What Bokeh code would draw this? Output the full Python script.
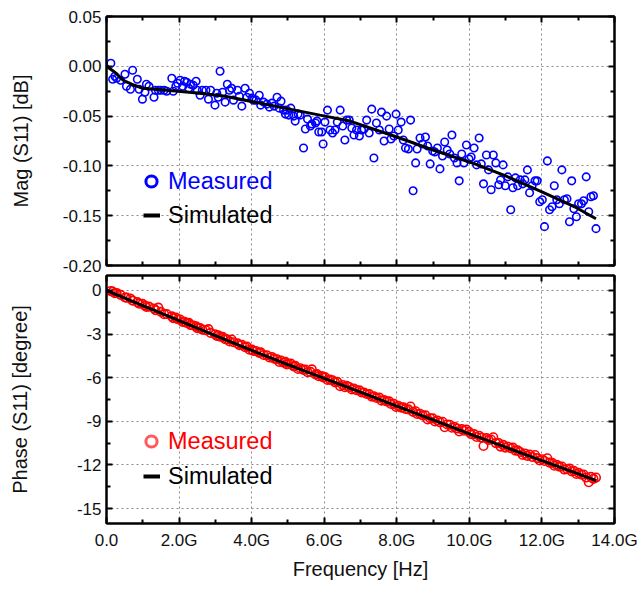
from bokeh.plotting import figure
from bokeh.layouts import column
from bokeh.models import (Range1d, FixedTicker, CustomJSTickFormatter, LinearAxis,
                          Legend, LegendItem, ColumnDataSource, Grid)
from bokeh.embed import file_html
from bokeh.resources import INLINE

FONT = "Liberation Sans"
NAN = float("nan")

# ---------------- data (frequency in GHz) ----------------
freq_ghz = [
    0.12, 0.17, 0.23, 0.28, 0.39, 0.51, 0.55, 0.66, 0.72, 0.85,
    0.90, 0.99, 1.06, 1.10, 1.17, 1.31, 1.35, 1.43, 1.50, 1.59,
    1.66, 1.80, 1.84, 1.91, 1.96, 2.03, 2.10, 2.15, 2.21, 2.27,
    2.32, 2.39, 2.47, 2.50, 2.58, 2.64, 2.74, 2.81, 2.87, 2.99,
    3.04, 3.08, 3.13, 3.20, 3.27, 3.33, 3.39, 3.45, 3.50, 3.61,
    3.66, 3.73, 3.82, 3.87, 3.94, 4.01, 4.05, 4.12, 4.21, 4.25,
    4.33, 4.42, 4.49, 4.56, 4.62, 4.70, 4.76, 4.81, 4.88, 4.93,
    4.97, 5.02, 5.08, 5.16, 5.20, 5.28, 5.34, 5.43, 5.48, 5.54,
    5.62, 5.66, 5.76, 5.80, 5.85,
    5.93, 5.97, 6.02, 6.09, 6.16, 6.23, 6.30, 6.36, 6.44, 6.51,
    6.57, 6.62, 6.69, 6.76, 6.82, 6.89, 6.97, 7.03, 7.10, 7.17,
    7.24, 7.31, 7.37, 7.44, 7.52, 7.58, 7.65, 7.72, 7.79, 7.84,
    7.92, 7.98, 8.04, 8.12, 8.18, 8.24, 8.32, 8.38, 8.45, 8.52,
    8.56, 8.64, 8.71, 8.79, 8.85, 8.92, 8.99, 9.05, 9.12, 9.19,
    9.26, 9.32, 9.39, 9.46, 9.52, 9.59, 9.66, 9.72, 9.79, 9.85,
    9.92, 9.99, 10.05, 10.13, 10.20, 10.27, 10.33, 10.39, 10.47, 10.53,
    10.60, 10.66, 10.73, 10.81, 10.86, 10.93, 10.99, 11.06, 11.14, 11.20,
    11.27, 11.33, 11.40, 11.47, 11.53, 11.60, 11.66, 11.73, 11.81, 11.87,
    11.94, 12.01, 12.07, 12.15, 12.21, 12.28, 12.34, 12.41, 12.48, 12.55,
    12.62, 12.69, 12.76, 12.82, 12.88, 12.95, 13.01, 13.09, 13.15, 13.22,
    13.29, 13.35, 13.42, 13.49,
]

mag_measured = [
    0.003, -0.013, -0.010, -0.012, -0.014, -0.008, -0.020, -0.023, -0.004, -0.013,
    -0.023, -0.033, -0.026, -0.018, -0.020, -0.031, -0.024, -0.024, -0.024, -0.024,
    -0.025, -0.012, -0.025, -0.020, -0.017, -0.014, -0.020, -0.015, -0.016, -0.022,
    -0.018, -0.019, -0.015, -0.024, -0.029, -0.024, -0.024, -0.033, -0.024, -0.039,
    -0.027, -0.031, -0.005, -0.026, -0.036, -0.018, -0.024, -0.022, -0.034, -0.024,
    -0.030, -0.040, -0.022, -0.031, -0.027, -0.032, -0.034, -0.034, -0.029, -0.039,
    -0.036, -0.038, -0.041, -0.037, -0.040, -0.031, -0.042, -0.035, -0.044, -0.048,
    -0.044, -0.049, -0.042, -0.050, -0.055, -0.048, -0.049, -0.082, -0.063, -0.053,
    -0.060, -0.058, -0.057, -0.055, -0.066,
    -0.066, -0.078, -0.056, -0.044, -0.064, -0.067, -0.064, -0.056, -0.044, -0.060,
    -0.074, -0.054, -0.054, -0.062, -0.069, -0.064, -0.070, -0.064, -0.063, -0.054,
    -0.067, -0.043, -0.092, -0.057, -0.064, -0.046, -0.075, -0.050, -0.063, -0.073,
    -0.070, -0.048, -0.064, -0.056, -0.074, -0.082, -0.083, -0.054, -0.125, -0.097,
    -0.083, -0.072, -0.078, -0.071, -0.080, -0.098, -0.085, -0.086, -0.082, -0.103,
    -0.090, -0.076, -0.084, -0.088, -0.069, -0.092, -0.097, -0.115, -0.088, -0.097,
    -0.079, -0.093, -0.091, -0.082, -0.099, -0.072, -0.098, -0.118, -0.089, -0.104,
    -0.124, -0.089, -0.097, -0.119, -0.114, -0.099, -0.120, -0.111, -0.144, -0.122,
    -0.112, -0.120, -0.114, -0.118, -0.114, -0.104, -0.127, -0.120, -0.115, -0.115,
    -0.136, -0.134, -0.161, -0.095, -0.144, -0.141, -0.120, -0.134, -0.138, -0.104,
    -0.134, -0.133, -0.156, -0.115, -0.143, -0.151, -0.138, -0.138, -0.135, -0.111,
    -0.146, -0.131, -0.130, -0.163,
]

phase_measured = [
    -0.04, -0.08, -0.19, -0.17, -0.30, -0.48, -0.49, -0.56, -0.70, -0.80,
    -0.91, -0.92, -1.04, -1.14, -1.11, -1.24, -1.35, -1.18, -1.47, -1.63,
    -1.62, -1.78, -1.90, -1.86, -1.98, -2.00, -2.17, -2.15, -2.24, -2.23,
    -2.38, -2.41, -2.46, -2.59, -2.59, -2.69, -2.74, -2.66, -2.92, -3.01,
    -3.13, -3.09, -3.18, -3.19, -3.35, -3.37, -3.51, -3.37, -3.56, -3.64,
    -3.77, -3.74, -3.90, -3.86, -4.08, -4.07, -4.16, -4.16, -4.29, -4.26,
    -4.44, -4.46, -4.61, -4.58, -4.69, -4.73, -4.92, -4.82, -4.96, -4.91,
    -5.09, -5.06, -5.03, -5.22, -5.19, -5.40, -5.35, -5.46, -5.44, -5.62,
    -5.60, -5.43, -5.78, -5.75, -5.90,
    -5.89, -5.98, -5.96, -6.15, -6.13, -6.18, -6.32, -6.29, -6.58, -6.50,
    -6.66, -6.56, -6.64, -6.81, -6.75, -6.86, -6.87, -7.02, -7.02, -7.12,
    -7.13, -7.30, -7.28, -7.39, -7.37, -7.58, -7.54, -7.63, -7.63, -7.81,
    -7.80, -8.01, -7.94, -8.06, -8.03, -8.15, -8.18, -7.98, -8.35, -8.31,
    -8.50, -8.48, -8.59, -8.59, -8.87, -8.79, -8.80, -9.01, -8.94, -9.07,
    -9.03, -9.41, -9.22, -9.24, -9.44, -9.38, -9.50, -9.70, -9.54, -9.65,
    -9.57, -9.73, -9.89, -9.88, -10.08, -9.99, -10.12, -10.70, -10.16, -10.28,
    -10.25, -10.10, -10.50, -10.49, -10.74, -10.62, -10.81, -10.73, -10.85, -10.81,
    -11.02, -11.00, -11.11, -11.31, -11.21, -11.38, -11.28, -11.45, -11.32, -11.53,
    -11.69, -11.61, -11.73, -11.54, -11.84, -11.86, -12.06, -12.00, -12.12, -12.11,
    -12.32, -12.28, -12.25, -12.45, -12.41, -12.62, -12.55, -12.68, -12.66, -12.87,
    -13.19, -12.82, -12.96, -12.87,
]

sim_mag_freq = [0.0, 0.23, 0.46, 0.69, 1.0, 1.66, 2.58, 3.27, 4.5, 5.88,
                6.71, 8.0, 9.0, 10.15, 11.0, 12.0, 12.95, 13.49]
sim_mag = [0.000, -0.006, -0.014, -0.018, -0.022, -0.024, -0.027, -0.030, -0.039, -0.049,
           -0.055, -0.071, -0.084, -0.098, -0.110, -0.126, -0.142, -0.153]

sim_phase_freq = [0.0, 1.0, 2.0, 3.0, 4.0, 5.0, 6.0, 7.0, 8.0, 9.0,
                  10.0, 11.0, 12.0, 13.0, 13.5]
sim_phase = [0.0, -1.04, -2.08, -3.11, -4.12, -5.10, -6.05, -6.99, -7.95, -8.90,
             -9.87, -10.78, -11.70, -12.62, -13.08]

x_major = [0, 2, 4, 6, 8, 10, 12, 14]
x_minor = [1, 3, 5, 7, 9, 11, 13]
mag_major = [0.05, 0.0, -0.05, -0.10, -0.15, -0.20]
mag_minor = [0.025, -0.025, -0.075, -0.125, -0.175]
ph_major = [0, -3, -6, -9, -12, -15]
ph_minor = [-1.5, -4.5, -7.5, -10.5, -13.5]

x_fmt_code = "return tick == 0 ? '0.0' : tick.toFixed(1) + 'G';"


def make_axis(ticks, minor, code, show, label=None, label_standoff=0,
              tick_standoff=5):
    ax = LinearAxis(ticker=FixedTicker(ticks=ticks, minor_ticks=minor),
                    formatter=CustomJSTickFormatter(code=code))
    ax.axis_line_width = 2
    ax.axis_line_color = "black"
    ax.major_tick_in = 6
    ax.major_tick_out = 0
    ax.minor_tick_in = 4
    ax.minor_tick_out = 0
    ax.major_tick_line_width = 2
    ax.minor_tick_line_width = 2
    ax.major_tick_line_color = "black"
    ax.minor_tick_line_color = "black"
    if show:
        ax.major_label_text_font = FONT
        ax.major_label_text_font_size = "17px"
        ax.major_label_text_color = "#111111"
        ax.major_label_standoff = tick_standoff
    else:
        ax.major_label_text_font_size = "0px"
        ax.major_label_standoff = 0
    if label:
        ax.axis_label = label
        ax.axis_label_text_font = FONT
        ax.axis_label_text_font_size = "20px"
        ax.axis_label_text_font_style = "normal"
        ax.axis_label_text_color = "#111111"
        ax.axis_label_standoff = label_standoff
    return ax


def base_fig(height, y_range, top, bottom):
    p = figure(width=639, height=height, x_range=Range1d(0, 14), y_range=y_range,
               x_axis_type=None, y_axis_type=None, output_backend="svg",
               toolbar_location=None, min_border_left=106, min_border_right=25,
               min_border_top=top, min_border_bottom=bottom)
    p.outline_line_color = "black"
    p.outline_line_width = 2
    p.background_fill_color = "white"
    p.border_fill_color = "white"
    return p


def add_grids(p, xt, yt):
    for dim, t in ((0, xt), (1, yt)):
        g = Grid(dimension=dim, ticker=FixedTicker(ticks=t))
        g.grid_line_color = "#8a8a8a"
        g.grid_line_dash = "2 3"
        g.grid_line_width = 1
        p.add_layout(g, "center")


def add_legend(p, marker_color, text_color, meas_vy, sim_vy):
    # legend-only renderers (NaN data: nothing drawn inside the plot)
    dm = p.scatter(x=[NAN], y=[NAN], marker="circle", size=11, fill_color=None,
                   line_color=marker_color, line_width=3)
    dl = p.line(x=[NAN, NAN], y=[NAN, NAN], line_color="black", line_width=4)
    leg1 = Legend(items=[LegendItem(label="Measured", renderers=[dm])],
                  location=(31, meas_vy), glyph_width=28, glyph_height=28,
                  label_height=28, label_standoff=3)
    leg2 = Legend(items=[LegendItem(label="Simulated", renderers=[dl])],
                  location=(37, sim_vy), glyph_width=17, glyph_height=30,
                  label_height=30, label_standoff=8)
    for lg, col in ((leg1, text_color), (leg2, "black")):
        lg.padding = 0
        lg.margin = 0
        lg.spacing = 0
        lg.border_line_alpha = 0
        lg.background_fill_alpha = 0
        lg.label_text_font = FONT
        lg.label_text_font_size = "23.5px"
        lg.label_text_color = col
        p.add_layout(lg, "center")


# ---------------- top: magnitude ----------------
p1 = base_fig(274, Range1d(-0.20, 0.05), 16, 9)
add_grids(p1, x_major, mag_major)
p1.add_layout(make_axis(mag_major, mag_minor, "return tick.toFixed(2);", True,
                        "Mag (S11) [dB]", 28), "left")
p1.add_layout(make_axis(mag_major, mag_minor, "return '';", False), "right")
p1.add_layout(make_axis(x_major, x_minor, "return '';", False), "above")
p1.add_layout(make_axis(x_major, x_minor, "return '';", False), "below")

src_mag = ColumnDataSource(dict(f=freq_ghz, m=mag_measured))
p1.scatter("f", "m", source=src_mag, marker="circle", size=7.5, fill_color=None,
           line_color="blue", line_width=1.6)
p1.line(sim_mag_freq, sim_mag, line_color="black", line_width=3)
add_legend(p1, "blue", "blue", 70, 35)

# ---------------- bottom: phase ----------------
p2 = base_fig(315, Range1d(-16.03, 1.03), 1, 66)
add_grids(p2, x_major, ph_major)
p2.add_layout(make_axis(ph_major, ph_minor, "return tick.toFixed(0);", True,
                        "Phase (S11) [degree]", 43), "left")
p2.add_layout(make_axis(ph_major, ph_minor, "return '';", False), "right")
p2.add_layout(make_axis(x_major, x_minor, "return '';", False), "above")
p2.add_layout(make_axis(x_major, x_minor, x_fmt_code, True,
                        "Frequency [Hz]", 5, tick_standoff=7), "below")

src_ph = ColumnDataSource(dict(f=freq_ghz, ph=phase_measured))
p2.scatter("f", "ph", source=src_ph, marker="circle", size=8.5, fill_color=None,
           line_color="red", line_width=1.6)
p2.line(sim_phase_freq, sim_phase, line_color="black", line_width=3)
add_legend(p2, "#ff5a5a", "red", 68, 32)

layout = column(p1, p2, spacing=0)
open("out.html", "w").write(file_html(layout, INLINE))
